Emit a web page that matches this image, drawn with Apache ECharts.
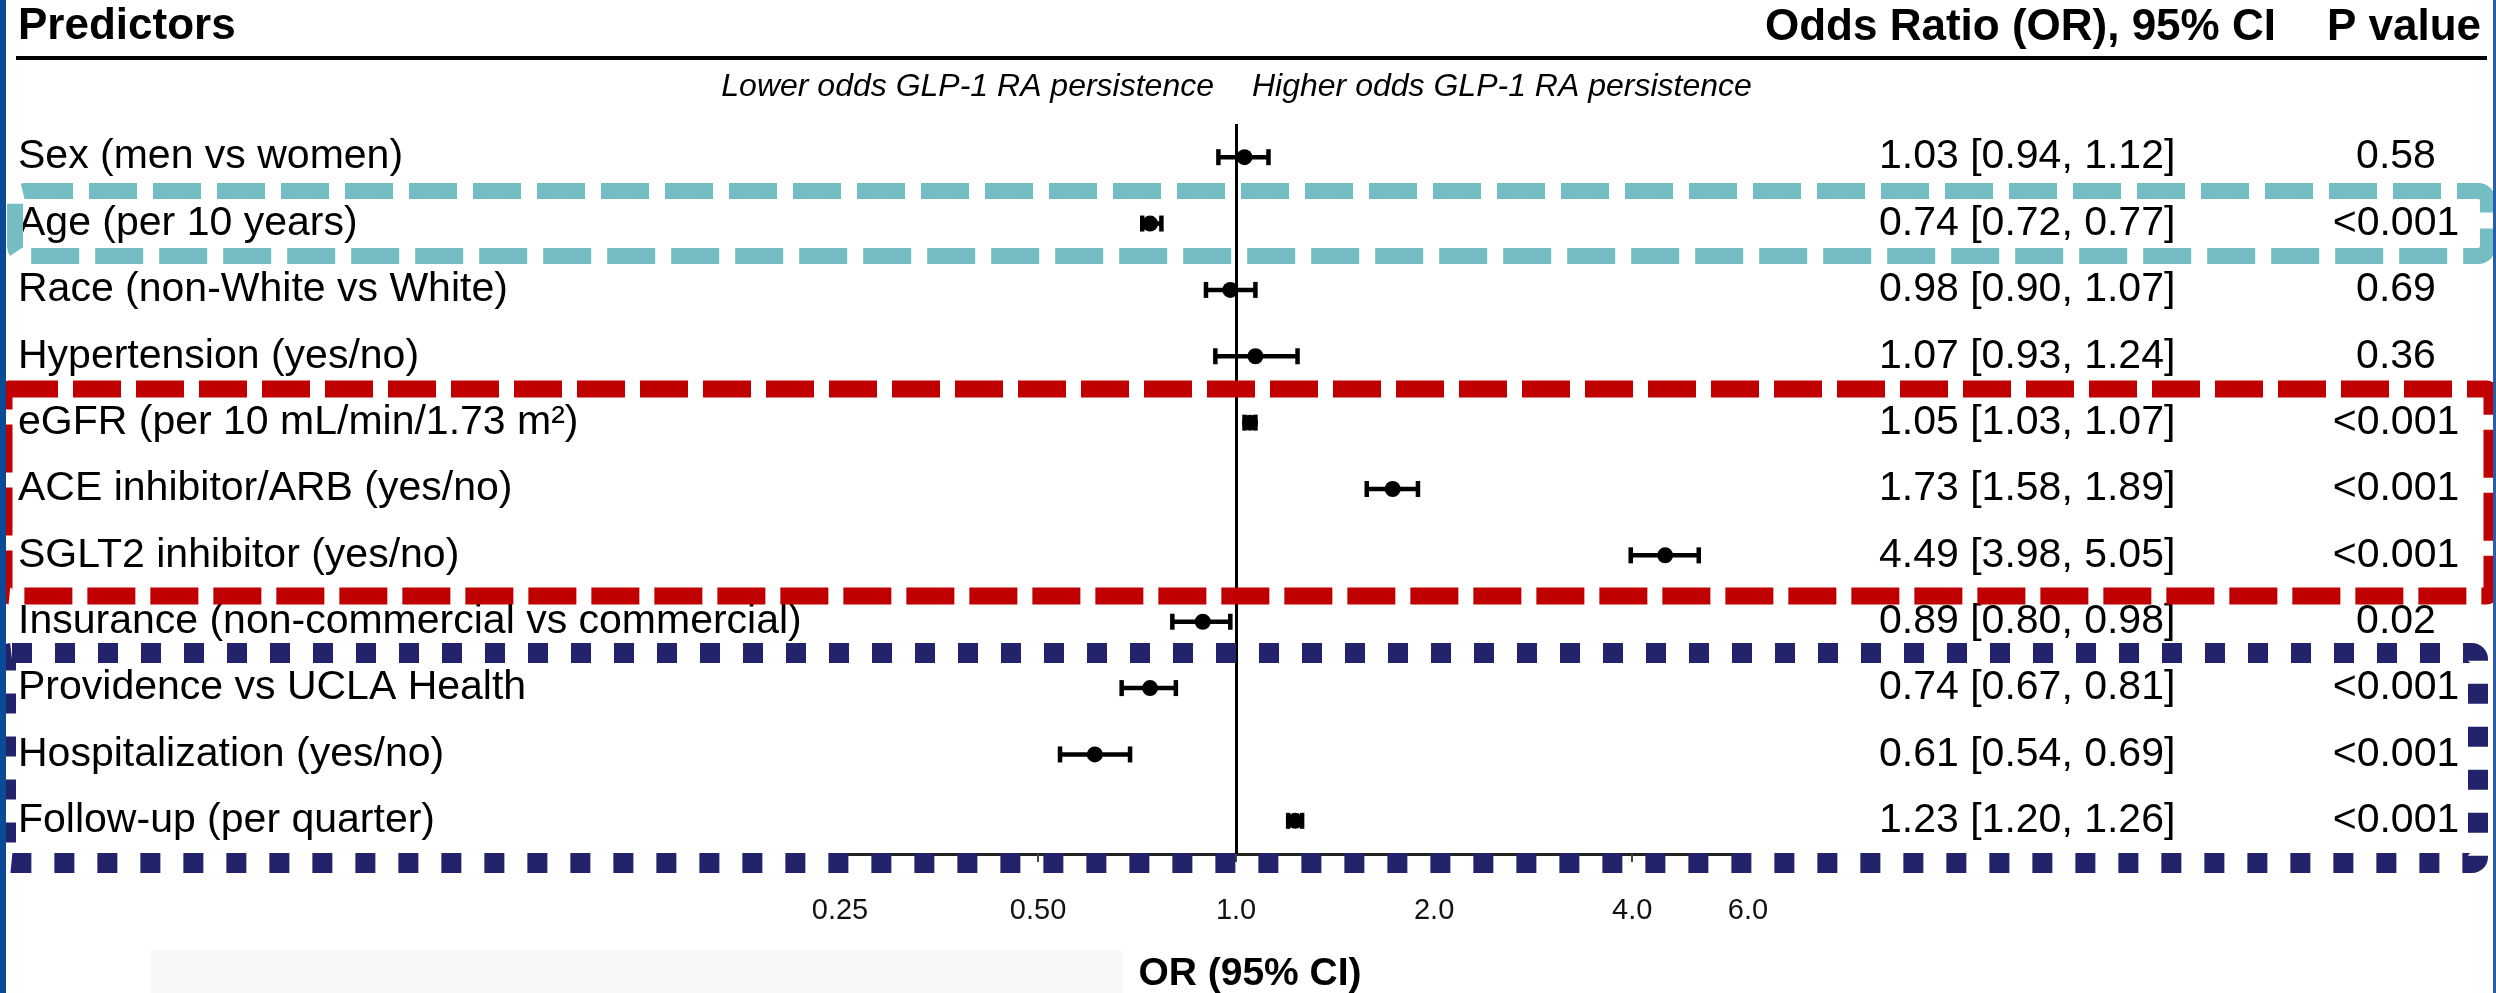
<!DOCTYPE html>
<html>
<head>
<meta charset="utf-8">
<title>Predictors of GLP-1 RA persistence</title>
<script src="https://cdn.jsdelivr.net/npm/echarts@6/dist/echarts.min.js"></script>
<style>
    html, body { margin: 0; padding: 0; background: #fff; }
    #forest { width: 2496px; height: 993px; }
</style>
</head>
<body>
<div id="forest"></div>
<script>
// rows, top to bottom
var predictors = [
    'Sex (men vs women)',
    'Age (per 10 years)',
    'Race (non-White vs White)',
    'Hypertension (yes/no)',
    'eGFR (per 10 mL/min/1.73 m²)',
    'ACE inhibitor/ARB (yes/no)',
    'SGLT2 inhibitor (yes/no)',
    'Insurance (non-commercial vs commercial)',
    'Providence vs UCLA Health',
    'Hospitalization (yes/no)',
    'Follow-up (per quarter)'
];
var oddsRatio = [1.03, 0.74, 0.98, 1.07, 1.05, 1.73, 4.49, 0.89, 0.74, 0.61, 1.23];
var ciLow     = [0.94, 0.72, 0.90, 0.93, 1.03, 1.58, 3.98, 0.80, 0.67, 0.54, 1.20];
var ciHigh    = [1.12, 0.77, 1.07, 1.24, 1.07, 1.89, 5.05, 0.98, 0.81, 0.69, 1.26];
var pValues   = ['0.58', '<0.001', '0.69', '0.36', '<0.001', '<0.001', '<0.001', '0.02', '<0.001', '<0.001', '<0.001'];

// x axis ticks
var tickValues = [0.25, 0.5, 1, 2, 4, 6];
var tickLabels = ['0.25', '0.50', '1.0', '2.0', '4.0', '6.0'];

var FONT = 'Liberation Sans, Arial, sans-serif';

var orTexts = predictors.map(function (p, i) {
    return oddsRatio[i].toFixed(2) + ' [' + ciLow[i].toFixed(2) + ', ' + ciHigh[i].toFixed(2) + ']';
});
var seriesData = predictors.map(function (p, i) {
    return [i, oddsRatio[i], ciLow[i], ciHigh[i]];
});

function tickLabel(v) {
    var best = 0;
    for (var i = 1; i < tickValues.length; i++) {
        if (Math.abs(Math.log(v) - Math.log(tickValues[i])) < Math.abs(Math.log(v) - Math.log(tickValues[best]))) {
            best = i;
        }
    }
    return tickLabels[best];
}

function renderBar(params, api) {
    var row = api.value(0);
    var mid = api.coord([api.value(1), row]);
    var lo = api.coord([api.value(2), row]);
    var hi = api.coord([api.value(3), row]);
    var y = mid[1], cap = 8;
    var st = { stroke: '#000', lineWidth: 4.5 };
    return {
        type: 'group',
        children: [
            { type: 'line', shape: { x1: lo[0], y1: y, x2: hi[0], y2: y }, style: st },
            { type: 'line', shape: { x1: lo[0], y1: y - cap, x2: lo[0], y2: y + cap }, style: st },
            { type: 'line', shape: { x1: hi[0], y1: y - cap, x2: hi[0], y2: y + cap }, style: st },
            { type: 'circle', shape: { cx: mid[0], cy: y, r: 8 }, style: { fill: '#000' } }
        ]
    };
}

var chart = echarts.init(document.getElementById('forest'), null, { renderer: 'canvas' });

var option = {
    backgroundColor: '#fff',
    animation: false,
    grid: { left: 840, right: 748, top: 124, height: 730, outerBoundsMode: 'none', containLabel: false },
    xAxis: {
        type: 'log',
        logBase: 2,
        min: 0.25,
        max: 6,
        splitLine: { show: false },
        axisLine: { show: true, lineStyle: { color: '#222', width: 3 } },
        axisTick: { show: true, length: 8, lineStyle: { color: '#444', width: 2 } },
        axisLabel: {
            interval: 0,
            margin: 42,
            fontSize: 29,
            fontFamily: FONT,
            color: '#111',
            formatter: tickLabel
        }
    },
    yAxis: [
        {
            type: 'category',
            inverse: true,
            data: predictors,
            axisLine: { show: false },
            axisTick: { show: false },
            axisLabel: { align: 'left', margin: 822, fontSize: 41, fontFamily: FONT, color: '#000' }
        },
        {
            type: 'category',
            position: 'right',
            inverse: true,
            data: orTexts,
            axisLine: { show: false },
            axisTick: { show: false },
            axisLabel: { align: 'left', margin: 131, fontSize: 41, fontFamily: FONT, color: '#000' }
        },
        {
            type: 'category',
            position: 'right',
            inverse: true,
            data: pValues,
            axisLine: { show: false },
            axisTick: { show: false },
            axisLabel: { align: 'center', margin: 648, fontSize: 41, fontFamily: FONT, color: '#000' }
        }
    ],
    series: [{
        type: 'custom',
        name: 'OR',
        renderItem: renderBar,
        encode: { x: [1, 2, 3], y: 0 },
        data: seriesData,
        markLine: {
            silent: true,
            symbol: 'none',
            label: { show: false },
            lineStyle: { color: '#000', width: 3, type: 'solid' },
            data: [{ xAxis: 1 }]
        }
    }],
    graphic: [
        // faint background patch under the axis title
        { type: 'rect', z: 0, shape: { x: 151, y: 950, width: 971, height: 43 }, style: { fill: '#f7f7f7' } },
        { type: 'text', z: 50, style: { x: 1250, y: 974, text: 'OR (95% CI)', font: 'bold 39px ' + FONT, fill: '#000', align: 'center', verticalAlign: 'middle' } },
        // column headers
        { type: 'text', z: 50, style: { x: 18, y: 27, text: 'Predictors', font: 'bold 44px ' + FONT, fill: '#000', verticalAlign: 'middle' } },
        { type: 'text', z: 50, style: { x: 1765, y: 28, text: 'Odds Ratio (OR), 95% CI', font: 'bold 44px ' + FONT, fill: '#000', verticalAlign: 'middle' } },
        { type: 'text', z: 50, style: { x: 2327, y: 28, text: 'P value', font: 'bold 44px ' + FONT, fill: '#000', verticalAlign: 'middle' } },
        { type: 'line', z: 50, shape: { x1: 16, y1: 58, x2: 2487, y2: 58 }, style: { stroke: '#000', lineWidth: 4 } },
        // direction labels
        { type: 'text', z: 50, style: { x: 1214, y: 87, text: 'Lower odds GLP-1 RA persistence', font: 'italic 32px ' + FONT, fill: '#000', align: 'right', verticalAlign: 'middle' } },
        { type: 'text', z: 50, style: { x: 1252, y: 87, text: 'Higher odds GLP-1 RA persistence', font: 'italic 32px ' + FONT, fill: '#000', align: 'left', verticalAlign: 'middle' } },
        // highlight boxes
        { type: 'rect', z: 60, shape: { x: 15, y: 191, width: 2473, height: 65, r: 10 },
          style: { fill: 'none', stroke: '#74bec3', lineWidth: 16, lineDash: [48, 16] } },
        { type: 'rect', z: 60, shape: { x: 4, y: 389, width: 2488, height: 207, r: 6 },
          style: { fill: 'none', stroke: '#c00000', lineWidth: 17, lineDash: [48, 15] } },
        { type: 'rect', z: 60, shape: { x: 6, y: 653, width: 2472, height: 210, r: 6 },
          style: { fill: 'none', stroke: '#23236b', lineWidth: 20, lineDash: [20, 23] } },
        // slide borders
        { type: 'rect', z: 70, shape: { x: 0, y: 0, width: 6, height: 993 }, style: { fill: '#0b4a96' } },
        { type: 'rect', z: 70, shape: { x: 2493, y: 0, width: 3, height: 993 }, style: { fill: '#2a5ca8' } }
    ]
};

chart.setOption(option);
window.onresize = chart.resize;
</script>
</body>
</html>
